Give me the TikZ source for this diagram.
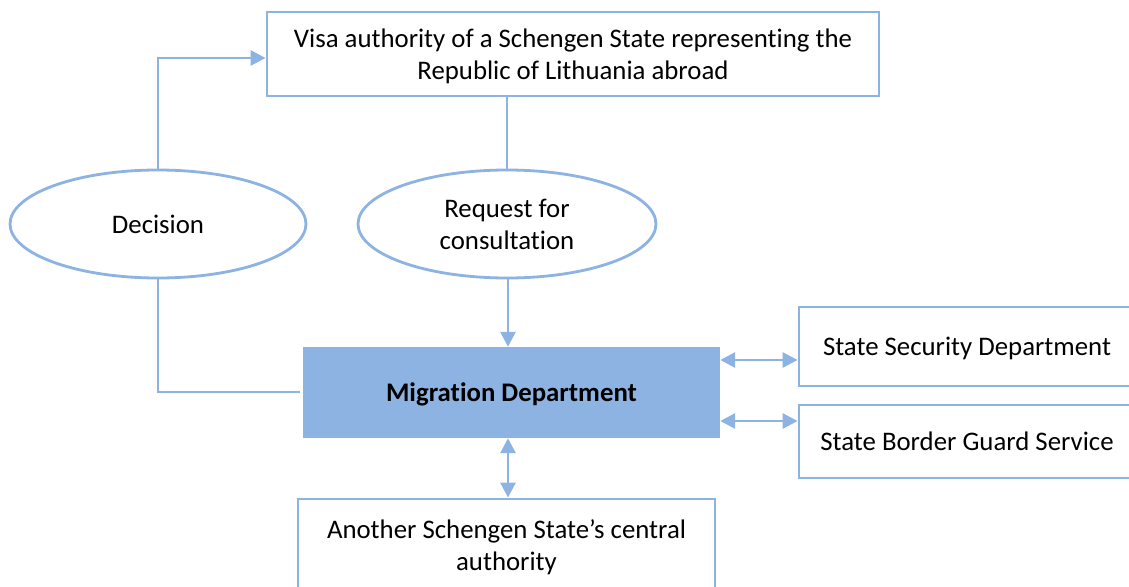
\documentclass[tikz,border=0pt]{standalone}
\usepackage{fontspec}
\setmainfont{Carlito}[Ligatures={NoCommon}]
\usetikzlibrary{shapes.geometric,arrows.meta,calc}
\definecolor{lineblue}{HTML}{8DB3E2}
\begin{document}
\begin{tikzpicture}[x=1pt,y=-1pt,
  every node/.style={font=\fontsize{26.8}{32}\selectfont, align=center, inner sep=0pt},
  box/.style={draw=lineblue, line width=2.8pt, fill=white, rectangle, text depth=0pt},
  oval/.style={draw=lineblue, line width=2.8pt, fill=white, ellipse},
  conn/.style={draw=lineblue, line width=2.8pt},
  tip/.style={-{Triangle[length=15pt,width=15pt]}},
  dtip/.style={{Triangle[length=15pt,width=15pt]}-{Triangle[length=15pt,width=15pt]}}
]
\useasboundingbox (0,0) rectangle (1129,586);
\clip (0,0) rectangle (1129,586);
\node[box, minimum width=612pt, minimum height=84pt] (top) at (573,54)
  {Visa authority of a Schengen State representing the\\Republic of Lithuania abroad};
\node[oval, minimum width=296pt, minimum height=108pt] (dec) at (158,224) {Decision};
\node[oval, minimum width=298pt, minimum height=108pt] (req) at (507,224) {Request for\\consultation};
\node[rectangle, fill=lineblue, minimum width=417pt, minimum height=91pt, text depth=0pt, font=\fontsize{26.8}{32}\selectfont\bfseries] (mig) at (511.5,392.5) {Migration Department};
\node[box, minimum width=336pt, minimum height=79pt] (ssd) at (967,346.5) {State Security Department};
\node[box, minimum width=336pt, minimum height=73pt] (sbg) at (967,441.5) {State Border Guard Service};
\node[box, minimum width=417pt, minimum height=92pt] (bot) at (506.5,545) {Another Schengen State’s central\\authority};
\coordinate (ya) at (0,360);
\coordinate (yb) at (0,421);
\coordinate (xv) at (508,0);
\coordinate (dend) at (300,392);
\draw[conn] (req.north |- top.south) -- (req.north);
\draw[conn, tip] (req.south -| xv) -- (xv |- mig.north);
\draw[conn, tip] (dec.north) |- ($(top.west)+(0,4)$);
\draw[conn] (dec.south) |- (dend);
\draw[conn, dtip] (mig.east |- ya) -- (ssd.west |- ya);
\draw[conn, dtip] (mig.east |- yb) -- (sbg.west |- yb);
\draw[conn, dtip] (xv |- mig.south) -- (xv |- bot.north);
\end{tikzpicture}
\end{document}
